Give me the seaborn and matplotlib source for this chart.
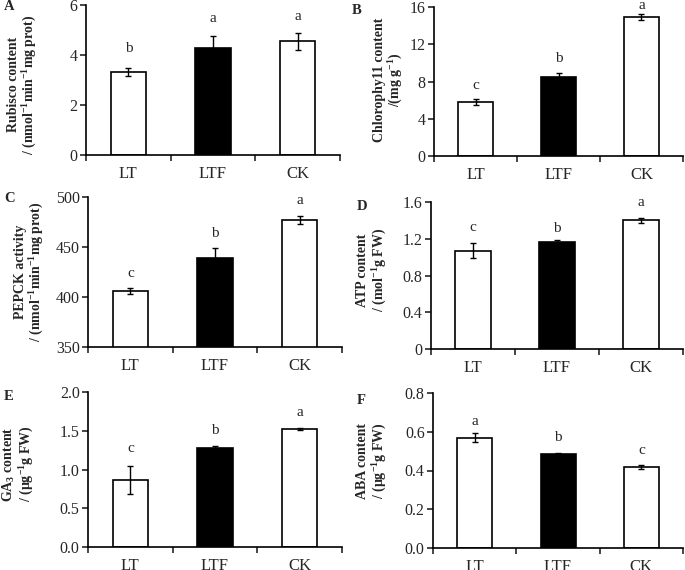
import matplotlib
matplotlib.use("Agg")
import matplotlib.pyplot as plt
import seaborn as sns
from matplotlib.ticker import FixedLocator

sns.set_style("ticks")
plt.rcParams["font.family"] = ["Liberation Serif", "DejaVu Serif"]
plt.rcParams["mathtext.fontset"] = "custom"
plt.rcParams["mathtext.rm"] = "Liberation Serif"
plt.rcParams["mathtext.bf"] = "Liberation Serif:bold"
plt.rcParams["mathtext.it"] = "Liberation Serif:italic"

groups = ["LT", "LTF", "CK"]
bar_colors = ["white", "black", "white"]

# panel values (mean, error, significance letters)
rubisco = [3.33, 4.30, 4.55]
rubisco_err = [0.15, 0.45, 0.35]
rubisco_sig = ["b", "a", "a"]

chl = [5.8, 8.5, 14.9]
chl_err = [0.3, 0.4, 0.3]
chl_sig = ["c", "b", "a"]

pepck = [406, 439, 477]
pepck_err = [3, 10, 4]
pepck_sig = ["c", "b", "a"]

atp = [1.07, 1.16, 1.40]
atp_err = [0.08, 0.03, 0.03]
atp_sig = ["c", "b", "a"]

ga3 = [0.87, 1.28, 1.52]
ga3_err = [0.18, 0.02, 0.01]
ga3_sig = ["c", "b", "a"]

aba = [0.57, 0.485, 0.418]
aba_err = [0.025, 0.003, 0.01]
aba_sig = ["a", "b", "c"]

sup = r"$^{\mathbf{-1}}$"

panels = [
    dict(letter="A", vals=rubisco, err=rubisco_err, sig=rubisco_sig, pad=[9.5, 8, 7],
         label="Rubisco content\n/ (nmol" + sup + "min" + sup + "mg prot)",
         ylim=(0, 6), ticks=[0, 2, 4, 6], fmt="{:g}",
         rect=[86, 5, 340, 155], lab_x=-0.184, lab_y=0.47, let_xy=(4, 7)),
    dict(letter="B", vals=chl, err=chl_err, sig=chl_sig, pad=[5, 6, 2],
         label="Chlorophy11 content\n/(mg g" + sup + ")",
         ylim=(0, 16), ticks=[0, 4, 8, 12, 16], fmt="{:g}",
         rect=[434, 7, 683, 156], lab_x=-0.115, lab_y=0.51, let_xy=(352, 10)),
    dict(letter="C", vals=pepck, err=pepck_err, sig=pepck_sig, pad=[6, 6, 6.5],
         label="PEPCK activity\n/ (nmol" + sup + "min" + sup + "mg prot)",
         ylim=(350, 500), ticks=[350, 400, 450, 500], fmt="{:g}",
         rect=[88, 197, 342, 347], lab_x=-0.165, lab_y=0.5, let_xy=(4, 198)),
    dict(letter="D", vals=atp, err=atp_err, sig=atp_sig, pad=[6.5, 3.6, 6],
         label="ATP content\n/ (mol" + sup + "g FW)",
         ylim=(0, 1.6), ticks=[0, 0.4, 0.8, 1.2, 1.6], fmt="{:g}",
         rect=[431, 202, 683, 349], lab_x=-0.167, lab_y=0.537, let_xy=(357, 206)),
    dict(letter="E", vals=ga3, err=ga3_err, sig=ga3_sig, pad=[8, 6.5, 7],
         label="GA$_{\\mathbf{3}}$ content\n/ (\u03bcg" + sup + "g FW)",
         ylim=(0, 2.0), ticks=[0, 0.5, 1.0, 1.5, 2.0], fmt="{:.1f}",
         rect=[88, 392, 342, 547], lab_x=-0.203, lab_y=0.535, let_xy=(4, 397)),
    dict(letter="F", vals=aba, err=aba_err, sig=aba_sig, pad=[3.6, 7, 6],
         label="ABA content\n/ (\u03bcg" + sup + "g FW)",
         ylim=(0, 0.8), ticks=[0, 0.2, 0.4, 0.6, 0.8], fmt="{:.1f}",
         rect=[433, 393, 683, 548], lab_x=-0.176, lab_y=0.56, let_xy=(357, 400)),
]

W, H = 685, 570
fig = plt.figure(figsize=(W / 100, H / 100), dpi=100)

for p in panels:
    x0, y0, x1, y1 = p["rect"]
    ax = fig.add_axes([x0 / W, 1 - y1 / H, (x1 - x0) / W, (y1 - y0) / H])
    sns.barplot(x=groups, y=p["vals"], hue=groups, palette=bar_colors,
                edgecolor="black", linewidth=1.2, width=0.42, errorbar=None,
                legend=False, ax=ax)
    ax.errorbar(range(3), p["vals"], yerr=p["err"], fmt="none", ecolor="black",
                elinewidth=1.0, capsize=2.5, capthick=1.0)
    for i, (v, e, s, pd_) in enumerate(zip(p["vals"], p["err"], p["sig"], p["pad"])):
        ax.annotate(s, (i, v + e), xytext=(0, pd_), textcoords="offset points",
                    ha="center", va="bottom", fontsize=11, annotation_clip=False)
    ax.set_xlim(-0.5, 2.5)
    ax.set_ylim(*p["ylim"])
    ax.set_yticks(p["ticks"])
    ax.set_yticklabels([p["fmt"].format(t) for t in p["ticks"]])
    ax.xaxis.set_minor_locator(FixedLocator([-0.5, 0.5, 1.5, 2.5]))
    ax.tick_params(axis="x", which="major", length=0, labelsize=12, pad=8)
    ax.tick_params(axis="x", which="minor", length=4, width=1.2, direction="out")
    ax.tick_params(axis="y", length=4, width=1.2, labelsize=11.5, pad=2)
    for sp in ["top", "right"]:
        ax.spines[sp].set_visible(False)
    for sp in ["left", "bottom"]:
        ax.spines[sp].set_linewidth(1.2)
        ax.spines[sp].set_color("black")
    ax.set_xlabel("")
    ax.set_ylabel(p["label"], fontsize=10, fontweight="bold", linespacing=1.1)
    ax.yaxis.set_label_coords(p["lab_x"], p["lab_y"])
    lx, ly = p["let_xy"]
    fig.text(lx / W, 1 - ly / H, p["letter"], fontsize=10.5, fontweight="bold",
             ha="left", va="center")

fig.savefig("out.png", dpi=100)
